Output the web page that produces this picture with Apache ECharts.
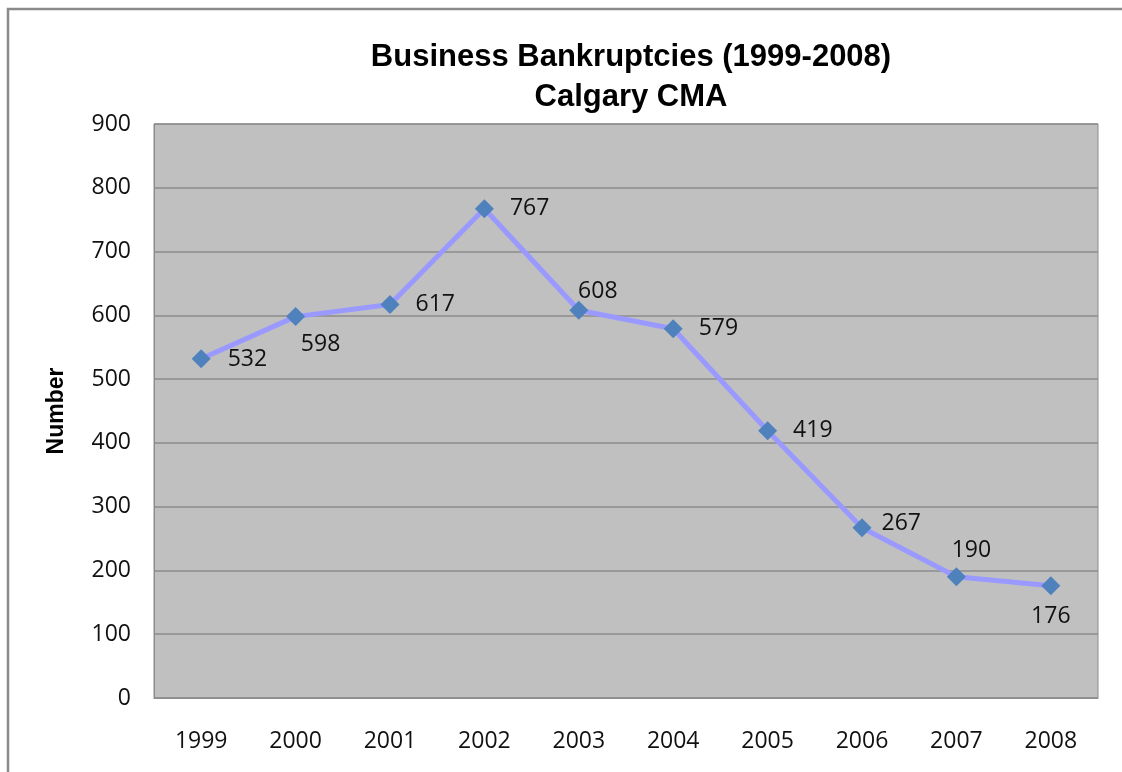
<!DOCTYPE html>
<html><head><meta charset="utf-8">
<script src="https://cdn.jsdelivr.net/npm/echarts@6/dist/echarts.min.js"></script>
<style>html,body{margin:0;padding:0;background:#fff}#c{width:1122px;height:772px}</style>
</head><body><div id="c"></div>
<script>
const years = ['1999','2000','2001','2002','2003','2004','2005','2006','2007','2008'];
const bankruptcies = [532, 598, 617, 767, 608, 579, 419, 267, 190, 176];
const labelPlacement = ['rightBelow','below','right','right','top','right','right','rightNear','top2','bottom'];
const yTicks = [0, 900, 100];

function labelFor(p){
  if (p === 'rightBelow') return {position:'right', offset:[12,1]};
  if (p === 'below') return {position:'bottom', offset:[25,2]};
  if (p === 'right') return {position:'right', offset:[11,0]};
  if (p === 'rightNear') return {position:'right', offset:[5,-4]};
  if (p === 'top') return {position:'top', offset:[19,7]};
  if (p === 'top2') return {position:'top', offset:[15,0]};
  if (p === 'bottom') return {position:'bottom', offset:[0,5]};
  return {};
}

const chart = echarts.init(document.getElementById('c'));
chart.setOption({
  animation:false,
  backgroundColor:'#fff',
  title:{
    text:'Business Bankruptcies (1999-2008)\nCalgary CMA',
    left:626, top:32, textAlign:'center',
    textStyle:{fontFamily:'Liberation Sans', fontWeight:'bold', fontSize:31, color:'#000', lineHeight:40}
  },
  graphic:[{type:'rect', shape:{x:8,y:9,width:1300,height:1000}, style:{fill:'none', stroke:'#8a8a8a', lineWidth:2.5}, z:-1}],
  grid:{left:154, right:24, top:124, bottom:74, show:true, backgroundColor:'#c0c0c0', borderColor:'#8c8c8c', borderWidth:1},
  xAxis:{
    type:'category', data:years, boundaryGap:true,
    axisLine:{lineStyle:{color:'#8c8c8c'}}, axisTick:{show:false},
    axisLabel:{margin:32, fontFamily:'Open Sans', fontSize:23, color:'#111'}
  },
  yAxis:{
    type:'value', min:yTicks[0], max:yTicks[1], interval:yTicks[2],
    name:'Number', nameLocation:'middle', nameGap:86, nameRotate:90,
    nameTextStyle:{fontFamily:'Liberation Sans', fontWeight:'bold', fontSize:23, color:'#000'},
    axisLine:{show:true, lineStyle:{color:'#8c8c8c'}}, axisTick:{show:false},
    axisLabel:{margin:23, fontFamily:'Open Sans', fontSize:23, color:'#111'},
    splitLine:{lineStyle:{color:'#8c8c8c', width:1.5}}
  },
  series:[{
    type:'line',
    data:bankruptcies.map((v,i)=>({value:v, label:labelFor(labelPlacement[i])})),
    symbol:'diamond', symbolSize:19,
    lineStyle:{color:'#9999ff', width:5},
    itemStyle:{color:'#4f81bd'},
    label:{show:true, fontFamily:'Open Sans', fontSize:23, color:'#111'}
  }]
});
</script></body></html>
